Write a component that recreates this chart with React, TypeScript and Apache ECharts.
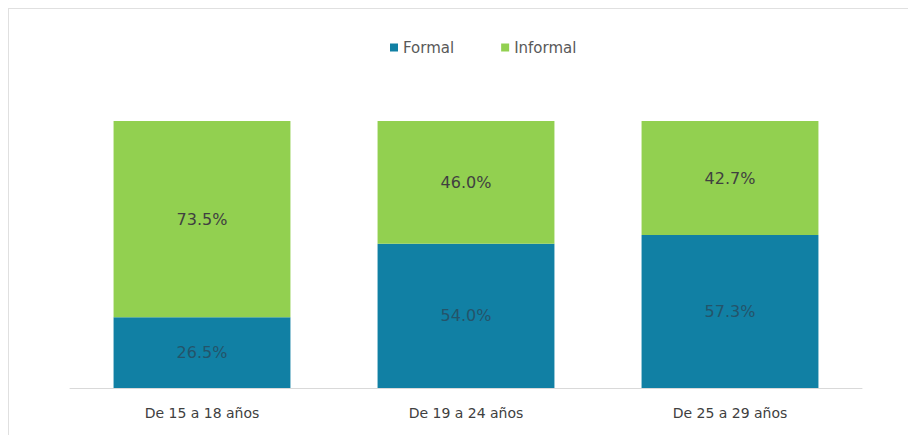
import React, { useEffect, useRef } from "react";
import * as echarts from "echarts";

const categories = ["De 15 a 18 años", "De 19 a 24 años", "De 25 a 29 años"];
const formal = [26.5, 54.0, 57.3];
const informal = [73.5, 46.0, 42.7];

export default function App() {
  const ref = useRef<HTMLDivElement>(null);
  useEffect(() => {
    if (!ref.current) return;
    const chart = echarts.init(ref.current, null, { renderer: "svg" });
    const label = {
      show: true,
      position: "inside",
      fontSize: 16,
      fontFamily: "DejaVu Sans",
      formatter: (p: any) => p.value.toFixed(1) + "%",
    };
    chart.setOption({
      animation: false,
      backgroundColor: "#ffffff",
      legend: {
        top: 26,
        left: 376,
        itemWidth: 8,
        itemHeight: 8,
        itemGap: 47,
        icon: "rect",
        textStyle: { color: "#595959", fontSize: 15, fontFamily: "DejaVu Sans" },
        data: ["Formal", "Informal"],
      },
      grid: { left: 61, right: 54, top: 112, bottom: 47 },
      xAxis: {
        type: "category",
        data: categories,
        axisLine: { lineStyle: { color: "#d9d9d9", width: 1 } },
        axisTick: { show: false },
        axisLabel: { color: "#404040", fontSize: 14, fontFamily: "DejaVu Sans", margin: 18 },
      },
      yAxis: { type: "value", min: 0, max: 100, show: false },
      series: [
        {
          name: "Formal",
          type: "bar",
          stack: "total",
          data: formal,
          barCategoryGap: "33%",
          itemStyle: { color: "#1180A4" },
          label: { ...label, color: "#24546a" },
        },
        {
          name: "Informal",
          type: "bar",
          stack: "total",
          data: informal,
          barCategoryGap: "33%",
          itemStyle: { color: "#92D050" },
          label: { ...label, color: "#404040" },
        },
      ],
    });
    return () => chart.dispose();
  }, []);
  return (
    <div
      ref={ref}
      style={{
        width: 908,
        height: 427,
        boxSizing: "border-box",
        borderLeft: "1px solid #e0e0e0",
        borderTop: "1px solid #e0e0e0",
      }}
    />
  );
}
